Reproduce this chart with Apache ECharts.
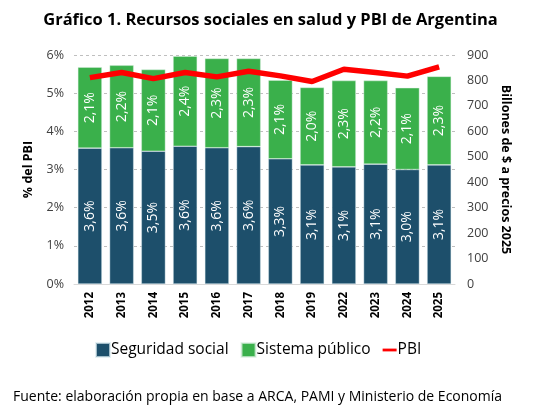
<!DOCTYPE html>
<html>
<head>
<meta charset="utf-8">
<script src="https://cdn.jsdelivr.net/npm/echarts@6/dist/echarts.min.js"></script>
<style>
html, body { margin: 0; padding: 0; background: #fff; }
#chart { width: 541px; height: 415px; }
</style>
</head>
<body>
<div id="chart"></div>
<script>
var years = ['2012', '2013', '2014', '2015', '2016', '2017', '2018', '2019', '2022', '2023', '2024', '2025'];
// % del PBI
var seguridadSocial = [3.56, 3.57, 3.48, 3.61, 3.57, 3.60, 3.28, 3.12, 3.07, 3.14, 3.00, 3.12];
var sistemaPublico = [2.12, 2.16, 2.14, 2.36, 2.34, 2.31, 2.06, 2.03, 2.26, 2.19, 2.14, 2.32];
// billones de $ a precios 2025
var pbi = [811, 831, 807, 831, 814, 836, 818, 796, 844, 831, 817, 853];

var fuente = 'Open Sans';

function pct(p) {
	return p.value.toFixed(1).replace('.', ',') + '%';
}

var chart = echarts.init(document.getElementById('chart'));
chart.setOption({
	animation: false,
	textStyle: { fontFamily: fuente },
	title: [
		{
			text: 'Gráfico 1. Recursos sociales en salud y PBI de Argentina',
			left: 'center',
			top: 7,
			textStyle: { fontFamily: fuente, fontSize: 16.5, fontWeight: 'bold', color: '#000' }
		},
		{
			text: 'Fuente: elaboración propia en base a ARCA, PAMI y Ministerio de Economía',
			left: 8,
			top: 385,
			textStyle: { fontFamily: fuente, fontSize: 14, fontWeight: 'normal', color: '#000' }
		}
	],
	legend: {
		top: 337,
		left: 90,
		itemGap: 12,
		itemWidth: 14,
		itemHeight: 14,
		textStyle: { fontFamily: fuente, fontSize: 15.5, color: '#000', padding: [0, 0, 0, -4] },
		data: [
			{ name: 'Seguridad social', icon: 'rect' },
			{ name: 'Sistema público', icon: 'rect' },
			{ name: 'PBI', icon: 'path://M0,4 L20,4 L20,8 L0,8 Z', itemStyle: { color: '#ff0000' } }
		]
	},
	grid: { left: 74, right: 86, top: 55, bottom: 131 },
	xAxis: {
		type: 'category',
		data: years,
		axisTick: { show: false },
		axisLine: { lineStyle: { color: '#d9d9d9' } },
		axisLabel: { rotate: 90, fontSize: 11.5, fontWeight: 'bold', color: '#000', margin: 8 }
	},
	yAxis: [
		{
			type: 'value',
			min: 0, max: 6, interval: 1,
			name: '% del PBI',
			nameLocation: 'middle',
			nameRotate: 90,
			nameGap: 39,
			nameTextStyle: { fontSize: 12.5, fontWeight: 'bold', color: '#000' },
			axisLabel: { formatter: '{value}%', fontSize: 12.5, color: '#404040', margin: 10 },
			splitLine: { lineStyle: { color: '#bfbfbf', type: [3, 3] } }
		},
		{
			type: 'value',
			min: 0, max: 900, interval: 100,
			name: 'Billones de $ a precios 2025',
			nameLocation: 'middle',
			nameRotate: -90,
			nameGap: 39,
			nameTextStyle: { fontSize: 12.5, fontWeight: 'bold', color: '#000' },
			axisLabel: { fontSize: 12.5, color: '#404040', margin: 12 },
			splitLine: { show: false }
		}
	],
	series: [
		{
			name: 'Seguridad social',
			type: 'bar',
			stack: 'gasto',
			barCategoryGap: '24%',
			data: seguridadSocial,
			itemStyle: { color: '#1d4f6b', borderColor: 'rgba(220,235,240,0.7)', borderWidth: 0.6 },
			label: { show: true, position: 'inside', rotate: 90, formatter: pct, color: '#fff', fontSize: 14 }
		},
		{
			name: 'Sistema público',
			type: 'bar',
			stack: 'gasto',
			data: sistemaPublico,
			itemStyle: { color: '#3ab04b', borderColor: 'rgba(220,240,225,0.7)', borderWidth: 0.6 },
			label: { show: true, position: 'inside', rotate: 90, formatter: pct, color: '#fff', fontSize: 14 }
		},
		{
			name: 'PBI',
			type: 'line',
			yAxisIndex: 1,
			data: pbi,
			symbol: 'none',
			lineStyle: { color: '#ff0000', width: 5.5 },
			itemStyle: { color: '#ff0000' },
			z: 5
		}
	]
});
</script>
</body>
</html>
